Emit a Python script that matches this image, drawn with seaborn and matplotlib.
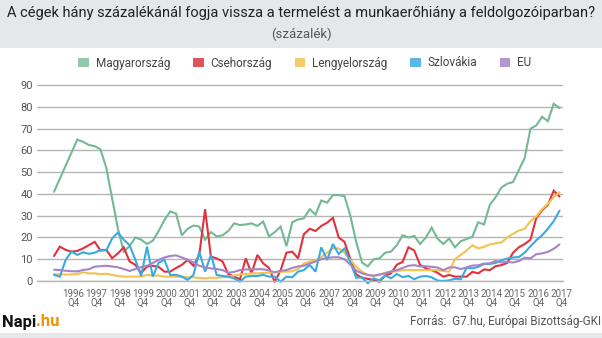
import numpy as np
import pandas as pd
import matplotlib
matplotlib.use("Agg")
import matplotlib.pyplot as plt
import seaborn as sns
from matplotlib.patches import Patch, Rectangle

# ---------------- data ----------------
quarters = list(pd.period_range("1996Q1", "2017Q4", freq="Q").astype(str))

hu = [41, 47, 53, 59, 65, 64, 62.5, 62, 60.5, 52,
      38, 24, 13.5, 16, 20, 19, 17, 18.5, 23, 28,
      32, 31, 21, 24, 25.5, 25, 19, 22.5, 20.5, 21,
      23, 26.5, 25.7, 26, 26.5, 25.3, 27.3, 20.5, 22.5, 25,
      16, 27, 28.3, 28.8, 33, 30.5, 37, 36, 39.5, 39.5,
      39, 30, 18, 8.5, 6.7, 10, 10.4, 13, 13.5, 16.5,
      21, 20, 20.7, 17, 20, 24.5, 19.5, 17, 19.5, 15.5,
      18.3, 19.3, 20.3, 27, 26, 35, 38.5, 43, 44.7, 45.5,
      51, 56.5, 70, 71.5, 75.5, 73.5, 81.5, 79.5]
cz = [11.5, 15.8, 14.3, 13.5, 13.8, 15, 16.5, 18, 14, 14.3,
      10.5, 12.7, 15.5, 9, 7.4, 3.7, 6.6, 7, 6.5, 4.3,
      4.3, 6, 7.4, 9.7, 7, 12, 33, 11.2, 10.4, 9,
      3.2, 2, 0.8, 10.4, 3.5, 12, 8.1, 6, -0.5, 5,
      13, 13.5, 10.4, 21.5, 24, 23, 25.3, 26.8, 29, 20,
      18, 10, 3, 1.5, 1, 0.5, -0.3, 2.5, 3.5, 7.5,
      8.8, 15.5, 14, 7.4, 5.8, 5, 3.8, 2, 2.8, 2,
      2, 2, 4.2, 3.5, 5.3, 5, 6.8, 7.3, 8.3, 13,
      15.5, 17, 19, 29, 32.5, 35, 41.5, 38.8]
pl = [3.2, 3, 3, 3, 3.2, 4, 3.5, 3.5, 3.2, 3.3,
      2.8, 2.3, 2, 2, 2, 2, 2.8, 2.5, 2.5, 2,
      2, 2, 2, 1.7, 1.7, 1.4, 1.2, 1.5, 1.5, 1.7,
      2, 2.5, 3, 3.2, 3.5, 3.5, 3.7, 3.8, 4, 4.3,
      4.3, 4.5, 5.5, 8, 8.9, 9.5, 11, 13, 15, 15,
      13, 9.7, 6.5, 4.3, 2.8, 2.3, 2.8, 3.8, 4.3, 4.5,
      5, 5, 5, 5, 5, 5, 5, 4.6, 4.3, 10,
      12, 14, 16.4, 15, 15.7, 16.8, 17.3, 17.7, 20, 21.7,
      23.2, 24, 27.5, 29.7, 33, 35.5, 38.5, 40.8]
sk = [2.8, 2, 9.7, 13.5, 12, 13.2, 12.5, 13, 14.3, 14,
      19.6, 22.2, 19, 16.5, 9.7, 2.3, 15.8, 2, 8.4, 9.7,
      2.8, 2.8, 2, 0.5, 2.8, 13.5, 4.3, 12, 2.8, 2.3,
      2, 1.2, -0.3, 2, 2.3, 2.3, 2.8, 2, 2, -0.3,
      2, 1.7, 4.3, 5, 7.4, 4.3, 15.5, 9.7, 17, 12.4,
      15, 8.5, 1.5, 1.7, -1, 1.2, 0.3, 2.5, 1.3, 3.2,
      1.8, 2.3, 0.8, 2, 2.3, 1.7, 0.2, 0, 0.3, 1,
      0.8, 6, 5.8, 6.5, 7.8, 7.8, 8.3, 9.5, 10.3, 10.8,
      11, 13, 16, 18.7, 21, 24, 27.5, 32.3]
eu = [5.2, 5, 4.7, 4.5, 4.4, 5.1, 5.4, 6.6, 6.8, 7,
      6.7, 6.3, 5.5, 4.6, 5.5, 6.4, 7, 8.3, 9.7, 10.8,
      11.5, 11.8, 10.8, 9.8, 8.5, 7, 6.2, 5.8, 5.5, 5,
      3.8, 4.2, 5, 5.3, 5.4, 5.4, 5.4, 4.8, 4, 4.7,
      5, 6, 6.7, 7, 8, 9, 10, 10.6, 10.9, 10.9,
      10, 7.5, 4.8, 3.5, 2.8, 2.4, 3, 3.5, 4.4, 5,
      6, 7, 7.3, 6.7, 6.8, 6.5, 6.2, 5, 6.2, 6.3,
      5.5, 6.2, 7.1, 7.2, 8, 8.1, 9.2, 8.5, 8.8, 8.5,
      9.2, 10.7, 10.4, 12.3, 12.7, 13.4, 14.8, 16.8]

series_names = ["Magyarország", "Csehország", "Lengyelország", "Szlovákia", "EU"]
series_values = [hu, cz, pl, sk, eu]
colors = ["#74b993", "#e0323c", "#f3c34f", "#3ba9e1", "#a684c8"]
legend_colors = ["#92c9aa", "#e2545c", "#f4cd6a", "#5cb7e6", "#b298cf"]

title = "A cégek hány százalékánál fogja vissza a termelést a munkaerőhiány a feldolgozóiparban?"
subtitle = "(százalék)"
source = "Forrás:  G7.hu, Európai Bizottság-GKI"
yticks = list(range(0, 100, 10))
tick_years = list(range(1996, 2018))

# ---------------- long-form table ----------------
rows = []
for name, vals in zip(series_names, series_values):
    for i, (q, v) in enumerate(zip(quarters, vals)):
        rows.append({"pos": i, "quarter": q, "value": v, "country": name})
df = pd.DataFrame(rows)

# ---------------- style ----------------
sns.set_theme(style="white")
plt.rcParams["font.family"] = ["Roboto", "DejaVu Sans"]

W, H = 602, 338
fig = plt.figure(figsize=(W / 100, H / 100), dpi=100)
fig.patch.set_facecolor("white")

# header band
fig.add_artist(Rectangle((0, 1 - 48 / H), 1, 48 / H, transform=fig.transFigure,
                         facecolor="#e6e7e8", edgecolor="none", zorder=0))
# bottom band
fig.add_artist(Rectangle((0, 0), 1, 5 / H, transform=fig.transFigure,
                         facecolor="#e6e7e8", edgecolor="none", zorder=0))

title_txt = fig.text(0.5, 1 - 13 / H, title, ha="center", va="center", fontsize=11.5,
                     color="#222222")
fig.text(0.5, 1 - 34 / H, subtitle, ha="center", va="center", fontsize=9.5, color="#555555")

# fit title width to ~592 px
fig.canvas.draw()
tw = title_txt.get_window_extent().width
if tw > 592:
    title_txt.set_fontsize(11.5 * 592 / tw)

# axes: left 37px, right 563px, top 80px, bottom (zero line) 281px
ax = fig.add_axes([37 / W, (H - 281) / H, (563 - 37) / W, (281 - 80) / H])
palette = dict(zip(series_names, colors))
sns.lineplot(data=df, x="pos", y="value", hue="country", hue_order=series_names,
             palette=palette, linewidth=1.5, legend=False, ax=ax, sort=False)
for ln in ax.lines:
    ln.set_clip_on(False)
    ln.set_solid_joinstyle("miter")

ax.set_xlim(-2.93, 87.6)
ax.set_ylim(0, 92.4)
ax.set_yticks(yticks)
ax.set_yticklabels([str(t) for t in yticks])
ax.yaxis.grid(True, color="#b5b5b5", linewidth=1.0)
ax.xaxis.grid(False)
ax.set_axisbelow(True)
for s in ["top", "right", "left"]:
    ax.spines[s].set_visible(False)
ax.spines["bottom"].set_color("#b5b5b5")
ax.spines["bottom"].set_linewidth(1.0)

q4_pos = [quarters.index(f"{y}Q4") + 0.33 for y in tick_years]
ax.set_xticks(q4_pos)
ax.set_xticklabels([f"{y}\nQ4" for y in tick_years], linespacing=0.85)
ax.tick_params(axis="x", direction="out", length=4, width=0.8, color="#999999",
               labelsize=7, labelcolor="#666666", pad=1.5)
ax.tick_params(axis="y", length=0, labelsize=8, labelcolor="#555555", pad=3)
ax.set_xlabel("")
ax.set_ylabel("")
ax.set_facecolor("white")

# legend
handles = [Patch(facecolor=c, edgecolor="none", label=n) for n, c in zip(series_names, legend_colors)]
fig.legend(handles=handles, loc="center", bbox_to_anchor=(305 / W, 1 - 63 / H), ncol=5,
           frameon=False, fontsize=8.5, handlelength=0.9, handleheight=0.9,
           handletextpad=0.6, columnspacing=1.9, labelcolor="#444444")

# footer
napi = fig.text(2 / W, 1 - 322 / H, "Napi", ha="left", va="center", fontsize=12,
                fontweight="bold", color="#111111")
fig.canvas.draw()
r = napi.get_window_extent()
fig.text(r.x1 / W, 1 - 322 / H, ".hu", ha="left", va="center", fontsize=12,
         fontweight="bold", color="#f39200")
fig.text(601 / W, 1 - 322 / H, source, ha="right", va="center", fontsize=8.5, color="#555555")

fig.savefig("out.png", dpi=100)
